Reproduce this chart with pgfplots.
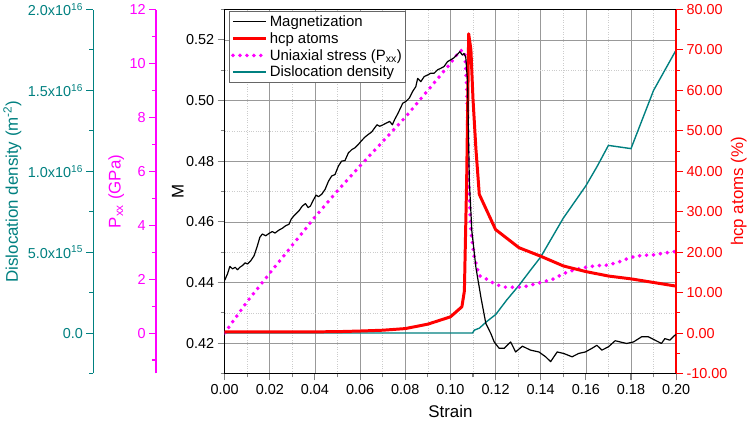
\documentclass[border=0pt]{standalone}
\usepackage{pgfplots}
\pgfplotsset{compat=1.18}
\usepackage{fontspec}
\setmainfont{Liberation Sans}
\definecolor{tealc}{RGB}{0,128,128}
\definecolor{magc}{RGB}{255,0,255}
\definecolor{redc}{RGB}{255,0,0}
\pgfplotsset{
  base/.style={scale only axis, width=454pt, height=366pt, xmin=0, xmax=0.2,
    tick label style={font=\fontsize{14.5}{16}\selectfont},
    label style={font=\fontsize{17}{20}\selectfont},
    /pgf/number format/assume math mode=true,
    major tick length=7pt, minor tick length=4pt,
    tick align=outside,
    tick style={line width=1.1pt},
  },
}
\begin{document}
\begin{tikzpicture}
% main axis with grid
\begin{axis}[base, ymin=0.41, ymax=0.53,
  xtick={0,0.02,0.04,0.06,0.08,0.1,0.12,0.14,0.16,0.18,0.2},
  minor xtick={0.01,0.03,0.05,0.07,0.09,0.11,0.13,0.15,0.17,0.19},
  ytick={0.42,0.44,0.46,0.48,0.5,0.52},
  minor ytick={0.41,0.43,0.45,0.47,0.49,0.51,0.53},
  xtick pos=bottom, ytick pos=left,
  grid=both,
  major grid style={draw=black!40, line width=0.6pt},
  minor grid style={draw=black!20, dotted, line width=0.6pt},
  axis line style={line width=1.4pt},
  xticklabel style={/pgf/number format/.cd, fixed, fixed zerofill, precision=2},
  yticklabel style={/pgf/number format/.cd, fixed, fixed zerofill, precision=2},
  xlabel={Strain}, ylabel={M},
  xlabel style={at={(axis description cs:0.5,-0.105)}, anchor=center},
  ylabel style={at={(axis description cs:-0.1035,0.5)}, anchor=center},
]
\end{axis}
% dislocation density data
\begin{axis}[base, hide axis, ymin=-2.5e15, ymax=2e16]
\addplot[tealc, line width=1.4pt] coordinates {
(0,0) (0.1098,0) (0.1106,1.8e14) (0.1115,2.3e14) (0.1128,3e14) (0.116,7e14)
(0.1201,1.15e15) (0.125,2.05e15) (0.1304,2.95e15) (0.135,3.8e15) (0.14,4.7e15)
(0.145,5.9e15) (0.15,7.1e15) (0.155,8.1e15) (0.16,9.1e15) (0.165,1.03e16)
(0.17,1.16e16) (0.18,1.14e16) (0.19,1.5e16) (0.2,1.75e16)
};
\end{axis}
% Pxx data
\begin{axis}[base, hide axis, ymin=-1.5, ymax=12]
\addplot[magc, line width=4pt, line cap=round, dash pattern=on 0pt off 7pt] coordinates {
(0,0) (0.01,1.17) (0.02,2.22) (0.03,3.26) (0.04,4.3) (0.05,5.28) (0.06,6.2)
(0.07,7.1) (0.08,8.0) (0.09,9.0) (0.1,10.0) (0.104,10.45) (0.1055,10.5)
(0.1065,10.3) (0.1072,9.2) (0.1076,8.1) (0.1081,5.6) (0.1091,3.8) (0.1106,2.8)
(0.1128,2.13) (0.1172,1.95) (0.12,1.8) (0.1245,1.7) (0.132,1.7) (0.1407,1.89)
(0.145,1.98) (0.15,2.2) (0.155,2.35) (0.16,2.44) (0.165,2.5) (0.17,2.52)
(0.175,2.65) (0.18,2.81) (0.185,2.88) (0.19,2.9) (0.195,2.97) (0.2,3.03)
};
\end{axis}
% hcp atoms axis and data
\begin{axis}[base, hide x axis, axis y line*=right, ymin=-10, ymax=80,
  ytick={-10,0,10,20,30,40,50,60,70,80},
  minor ytick={-5,5,15,25,35,45,55,65,75},
  y axis line style={redc, line width=1.4pt},
  tick style={redc},
  yticklabel style={text=redc, /pgf/number format/.cd, fixed, fixed zerofill, precision=2},
  ylabel={hcp atoms (\%)},
  ylabel style={text=redc, at={(axis description cs:1.1388,0.5)}, anchor=center},
]
\addplot[redc, line width=3pt, line join=round] coordinates {
(0,0.3) (0.02,0.3) (0.04,0.3) (0.05,0.35) (0.06,0.5) (0.07,0.7) (0.08,1.1)
(0.09,2.2) (0.1,4.0) (0.1051,6.5) (0.1062,10.4) (0.1072,37.5) (0.1081,74)
(0.1091,70) (0.11,58) (0.1113,45.6) (0.1128,34.3) (0.12,25.6) (0.1304,21.1)
(0.14,19.0) (0.15,16.6) (0.16,15.2) (0.17,14.1) (0.18,13.4) (0.19,12.5) (0.2,11.6)
};
\end{axis}
% magnetization data + legend
\begin{axis}[base, hide axis, ymin=0.41, ymax=0.53,
  legend cell align=left,
  legend style={at={(axis description cs:0.0088,0.995)}, anchor=north west,
    draw=black!60, line width=0.8pt, font=\fontsize{15}{18}\selectfont,
    inner sep=2pt, row sep=0.5pt},
  legend image code/.code={\draw[#1] (0pt,0pt) -- (33pt,0pt);},
]
\addplot[black, line width=1.2pt, line join=round] coordinates {
(0,0.4407) (0.0013,0.4429) (0.0023,0.4453) (0.0035,0.4445) (0.0047,0.445)
(0.0057,0.4442) (0.0067,0.445) (0.0079,0.4456) (0.0091,0.4465) (0.0101,0.4461)
(0.0116,0.4472) (0.0131,0.4489) (0.0138,0.4505) (0.0145,0.4521) (0.0156,0.4549)
(0.0167,0.456) (0.0182,0.4554) (0.0197,0.4562) (0.0211,0.4568) (0.0223,0.4563)
(0.0241,0.4573) (0.0256,0.4579) (0.027,0.4587) (0.0285,0.4592) (0.0295,0.4609)
(0.0307,0.462) (0.0317,0.4627) (0.0329,0.4636) (0.0344,0.4652) (0.0358,0.466)
(0.037,0.4647) (0.038,0.4652) (0.0391,0.4669) (0.0405,0.4688) (0.0416,0.4683)
(0.043,0.4691) (0.0445,0.4707) (0.046,0.4734) (0.0474,0.4751) (0.0489,0.4756)
(0.0504,0.4784) (0.0518,0.48) (0.0533,0.4802) (0.0548,0.4827) (0.0563,0.4838)
(0.0577,0.4844) (0.0592,0.4855) (0.0607,0.4868) (0.0621,0.4879) (0.0636,0.4888)
(0.0651,0.4896) (0.0662,0.4907) (0.0675,0.492) (0.0687,0.4915) (0.0702,0.492)
(0.0717,0.4926) (0.0731,0.4931) (0.0743,0.492) (0.0753,0.4937) (0.0768,0.4958)
(0.0789,0.4991) (0.0803,0.4997) (0.0818,0.5008) (0.0833,0.503) (0.0847,0.5046)
(0.0855,0.5073) (0.0869,0.5062) (0.0884,0.5079) (0.0899,0.5084) (0.0913,0.509)
(0.0928,0.509) (0.0943,0.5101) (0.0957,0.5106) (0.0972,0.5112) (0.0987,0.5128)
(0.1001,0.5134) (0.1016,0.5141) (0.1031,0.5152) (0.1042,0.5161) (0.1053,0.515)
(0.106,0.5155) (0.1068,0.5144)
(0.1076,0.5062) (0.1084,0.4734) (0.1095,0.457) (0.1113,0.445) (0.1135,0.4352)
(0.1157,0.4265) (0.1179,0.4232) (0.1194,0.4204) (0.1216,0.4183) (0.1238,0.4183)
(0.1267,0.4204) (0.1289,0.4171) (0.1319,0.419) (0.1355,0.4177) (0.1392,0.4171)
(0.1422,0.4155) (0.1444,0.4139) (0.1473,0.4171) (0.1502,0.4166) (0.1539,0.4155)
(0.1568,0.4166) (0.1598,0.4171) (0.1627,0.4183) (0.1649,0.4193) (0.1671,0.4177)
(0.17,0.4188) (0.173,0.4208) (0.1752,0.4204) (0.1781,0.4199) (0.1811,0.4204)
(0.1847,0.4221) (0.1877,0.4221) (0.1906,0.421) (0.1935,0.4199) (0.195,0.4215)
(0.1972,0.421) (0.1994,0.4226) (0.2,0.4228)
};
\addlegendentry{Magnetization}
\addlegendimage{redc, line width=3pt}
\addlegendentry{hcp atoms}
\addlegendimage{magc, line width=4pt, line cap=round, dash pattern=on 0pt off 7pt}
\addlegendentry{Uniaxial stress (P\textsubscript{xx})}
\addlegendimage{tealc, line width=1.4pt}
\addlegendentry{Dislocation density}
\end{axis}
% Pxx axis line
\begin{axis}[base, at={(-69pt,0pt)}, hide x axis, axis y line*=left, ymin=-1.5, ymax=12,
  ytick={0,2,4,6,8,10,12}, minor ytick={-1,1,3,5,7,9,11},
  y axis line style={magc, line width=1.4pt},
  tick style={magc},
  yticklabel style={text=magc},
  ylabel={P\textsubscript{xx} (GPa)},
  ylabel style={text=magc, at={(axis description cs:-0.088,0.5)}, anchor=center},
]
\end{axis}
% dislocation axis line
\begin{axis}[base, at={(-132pt,0pt)}, hide x axis, axis y line*=left, ymin=-2.5e15, ymax=2e16,
  scaled y ticks=false,
  ytick={0,5e15,1e16,1.5e16,2e16},
  yticklabels={0.0, 5.0x10\textsuperscript{15}, 1.0x10\textsuperscript{16}, 1.5x10\textsuperscript{16}, 2.0x10\textsuperscript{16}},
  minor ytick={-2.5e15,2.5e15,7.5e15,1.25e16,1.75e16},
  y axis line style={tealc, line width=1.4pt},
  tick style={tealc},
  yticklabel style={text=tealc},
  ylabel={Dislocation density (m\textsuperscript{-2})},
  ylabel style={text=tealc, at={(axis description cs:-0.1795,0.5)}, anchor=center},
]
\end{axis}
\end{tikzpicture}
\end{document}
